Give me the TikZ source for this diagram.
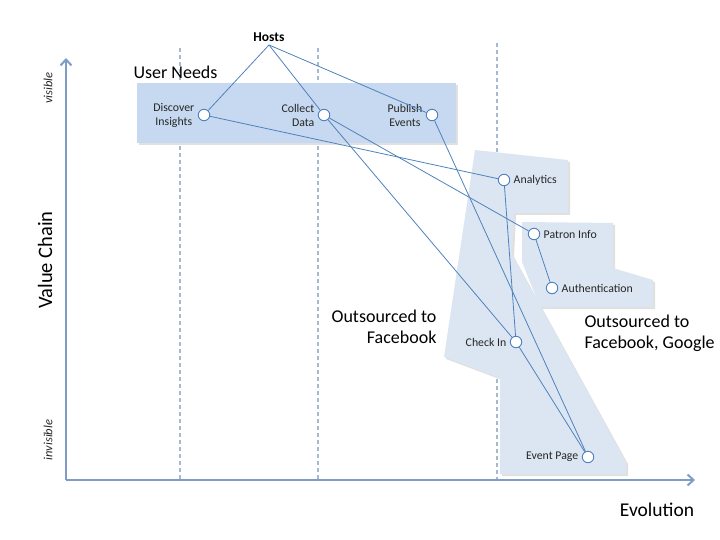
\documentclass[tikz,border=0pt]{standalone}
\usepackage{fontspec}
\setmainfont{Carlito}
\usepackage{tikz}
\usetikzlibrary{shapes,arrows.meta}
\definecolor{axisblue}{RGB}{126,156,196}
\definecolor{linkblue}{RGB}{79,129,189}
\definecolor{needsfill}{RGB}{198,217,240}
\definecolor{zonefill}{RGB}{220,230,242}
\definecolor{gridgray}{RGB}{165,185,208}

\begin{document}
\begin{tikzpicture}[x=1pt,y=-1pt]
\tikzstyle{every node}=[font=\fontsize{11.8}{14}\selectfont, text=black!85]
\tikzstyle{comp}=[circle, draw=linkblue, fill=white, line width=0.9pt, minimum size=11.5pt, inner sep=0pt]
\tikzstyle{link}=[draw=linkblue, line width=0.8pt]
\tikzstyle{stage}=[draw=gridgray, dash pattern=on 4pt off 3pt, line width=1.1pt]
\tikzstyle{axis}=[draw=axisblue, line width=2pt, -{Straight Barb[length=6pt,width=11pt]}]
\tikzstyle{big}=[font=\fontsize{18}{21}\selectfont, text=black]
\tikzstyle{shadow}=[fill=black!12]
\useasboundingbox (0,0) rectangle (720,540);
% evolution stages
\draw [stage] (180,48) -- (180,480);
\draw [stage] (318,48) -- (318,480);
\draw [stage] (497,43) -- (497,480);
% user needs band
\fill [shadow] (139,85) rectangle (458,145);
\fill [needsfill] (137,83) rectangle (456,143);
% outsourced zones
\fill [shadow] (476,152) -- (570,162) -- (570,215) -- (516,215) -- (514,257) -- (628,464) -- (628,476) -- (502,476) -- (502,380) -- (446,359) -- cycle;
\fill [zonefill] (475,150) -- (568,160) -- (568,213) -- (514,213) -- (512,255) -- (626,462) -- (626,474) -- (500,474) -- (500,378) -- (444,357) -- cycle;
\fill [shadow] (524,224) -- (615,225) -- (615,270) -- (655,282) -- (655,309) -- (542,309) -- (524,264) -- cycle;
\fill [zonefill] (522,222) -- (613,223) -- (613,268) -- (653,280) -- (653,307) -- (540,307) -- (522,262) -- cycle;
% axes
\coordinate (origin) at (66,480);
\coordinate (vtop) at (66,58);
\coordinate (hend) at (695,480);
\draw [axis] (origin) -- (vtop);
\draw [axis] (origin) -- (hend);
\node [big, font=\fontsize{20.5}{24}\selectfont, rotate=90] (valuechain) at (45,260) {Value Chain};
\node [font=\itshape\fontsize{12.5}{14}\selectfont, rotate=90] (visible) at (48,88) {visible};
\node [font=\itshape\fontsize{12.5}{14}\selectfont, rotate=90] (invisible) at (48,440) {invisible};
\node [big, font=\fontsize{19.5}{22}\selectfont] (evolution) at (657,510) {Evolution};
% texts
\node [big, anchor=west] (userneeds) at (130,72) {User Needs};
\node [big, anchor=east, align=right] (fbtext) at (440,327) {Outsourced to\\Facebook};
\node [big, anchor=west, align=left] (fbgtext) at (581,333) {Outsourced to\\Facebook, Google};
\node [font=\bfseries\fontsize{13.5}{15}\selectfont, text=black] (hosts) at (269,37) {Hosts};
% components
\node [comp, label={[align=center]left:Discover\\Insights}] (discover) at (204,115) {};
\node [comp, label={[align=right]left:Collect\\Data}] (collect) at (324,115) {};
\node [comp, label={[align=center]left:Publish\\Events}] (publish) at (432,115) {};
\node [comp, label={right:Analytics}] (analytics) at (504,180) {};
\node [comp, label={right:Patron Info}] (patron) at (534,234) {};
\node [comp, label={right:Authentication}] (auth) at (552,288) {};
\node [comp, label={left:Check In}] (checkin) at (516,342) {};
\node [comp, label={left:Event Page}] (eventpage) at (588,457) {};
% links
\draw [link] (hosts.south) -- (discover);
\draw [link] (hosts.south) -- (collect);
\draw [link] (hosts.south) -- (publish);
\draw [link] (discover) -- (analytics);
\draw [link] (collect) -- (patron);
\draw [link] (collect) -- (checkin);
\draw [link] (publish) -- (eventpage);
\draw [link] (analytics) -- (checkin);
\draw [link] (patron) -- (auth);
\draw [link] (checkin) -- (eventpage);
\end{tikzpicture}
\end{document}
